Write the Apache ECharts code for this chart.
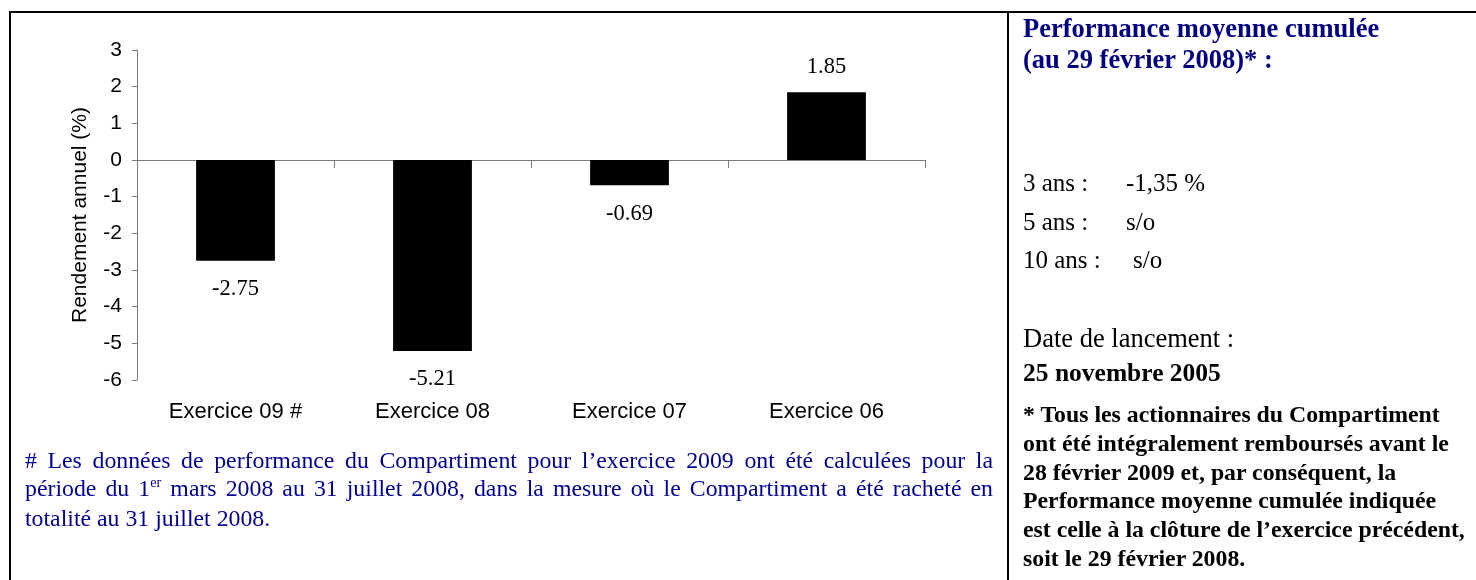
<!DOCTYPE html>
<html>
<head>
<meta charset="utf-8">
<script src="https://cdn.jsdelivr.net/npm/echarts@6/dist/echarts.min.js"></script>
<style>
  html, body { margin: 0; padding: 0; background: #fff; }
  #wrap { position: relative; width: 1476px; height: 580px; overflow: hidden; }
  #chart { position: absolute; left: 0; top: 0; width: 1476px; height: 580px; }
  .t { position: absolute; font-family: "Liberation Serif", "Times New Roman", serif; white-space: nowrap; color: #000; line-height: 1; }
  .navy { color: #000080; }
  .b { font-weight: bold; }
  #foot { position: absolute; left: 25px; top: 447px; width: 968px; font-family: "Liberation Serif", "Times New Roman", serif; font-size: 23.8px; line-height: 27.5px; color: #000090; }
  #foot .j { text-align: justify; text-align-last: justify; white-space: nowrap; }
  #foot .l { text-align: left; white-space: nowrap; }
  .sup { font-size: 0.6em; position: relative; top: -0.6em; }
  #note { position: absolute; left: 1023px; top: 400px; font-family: "Liberation Serif", "Times New Roman", serif; font-size: 23.8px; line-height: 28.8px; font-weight: bold; color: #000; white-space: nowrap; }
</style>
</head>
<body>
<div id="wrap">
  <div id="chart"></div>
  <div id="foot">
    <div class="j"># Les données de performance du Compartiment pour l’exercice 2009 ont été calculées pour la</div>
    <div class="j">période du 1<span class="sup">er</span> mars 2008 au 31 juillet 2008, dans la mesure où le Compartiment a été racheté en</div>
    <div class="l">totalité au 31 juillet 2008.</div>
  </div>
  <div class="t navy b" style="left:1023px; top:15px; font-size:26.5px;">Performance moyenne cumulée</div>
  <div class="t navy b" style="left:1023px; top:46px; font-size:26.5px;">(au 29 février 2008)* :</div>
  <div class="t" style="left:1023px; top:170px; font-size:25px;">3 ans :</div>
  <div class="t" style="left:1126px; top:170px; font-size:25px;">-1,35 %</div>
  <div class="t" style="left:1023px; top:209px; font-size:25px;">5 ans :</div>
  <div class="t" style="left:1126px; top:209px; font-size:25px;">s/o</div>
  <div class="t" style="left:1023px; top:247px; font-size:25px;">10 ans :</div>
  <div class="t" style="left:1133px; top:247px; font-size:25px;">s/o</div>
  <div class="t" style="left:1023px; top:325px; font-size:26.5px;">Date de lancement :</div>
  <div class="t b" style="left:1023px; top:360px; font-size:25.5px;">25 novembre 2005</div>
  <div id="note">* Tous les actionnaires du Compartiment<br>ont été intégralement remboursés avant le<br>28 février 2009 et, par conséquent, la<br>Performance moyenne cumulée indiquée<br>est celle à la clôture de l’exercice précédent,<br>soit le 29 février 2008.</div>
</div>
<script>
const categories = ['Exercice 09 #', 'Exercice 08', 'Exercice 07', 'Exercice 06'];
const returns = [-2.75, -5.21, -0.69, 1.85];
const yTicks = { min: -6, max: 3, interval: 1 };
const yAxisTitle = 'Rendement annuel (%)';

const chart = echarts.init(document.getElementById('chart'), null, { renderer: 'canvas' });
const sans = 'Liberation Sans, Arial, sans-serif';
const serif = 'Liberation Serif, Times New Roman, serif';
const axisGray = '#7a7a7a';

chart.setOption({
  animation: false,
  backgroundColor: '#fff',
  grid: { left: 137, right: 551, top: 50, bottom: 200, containLabel: false },
  xAxis: [
    {
      type: 'category', data: categories, position: 'bottom',
      axisLine: { show: true, onZero: true, lineStyle: { color: axisGray, width: 1 } },
      axisTick: { show: true, length: 8, lineStyle: { color: axisGray } },
      axisLabel: { show: false },
      splitLine: { show: false }
    },
    {
      type: 'category', data: categories, position: 'bottom',
      axisLine: { show: false, onZero: false },
      axisTick: { show: false },
      axisLabel: { show: true, margin: 21, fontFamily: sans, fontSize: 22, color: '#000' },
      splitLine: { show: false }
    }
  ],
  yAxis: {
    type: 'value', min: yTicks.min, max: yTicks.max, interval: yTicks.interval,
    name: yAxisTitle, nameLocation: 'middle', nameRotate: 90, nameGap: 46,
    nameTextStyle: { fontFamily: sans, fontSize: 21, color: '#000' },
    axisLine: { show: true, lineStyle: { color: axisGray, width: 1 } },
    axisTick: { show: true, length: 5, lineStyle: { color: axisGray } },
    axisLabel: { margin: 15, fontFamily: sans, fontSize: 21, color: '#000' },
    splitLine: { show: false }
  },
  series: [{
    type: 'bar', xAxisIndex: 0, yAxisIndex: 0,
    barWidth: '40%',
    itemStyle: { color: '#000' },
    label: { show: true, fontFamily: serif, fontSize: 22.5, color: '#000',
      formatter: p => String(p.value) },
    data: returns.map(v => ({ value: v, label: { position: v < 0 ? 'bottom' : 'top', distance: v < 0 ? 17 : 14 } }))
  }],
  graphic: [
    { type: 'rect', shape: { x: 9, y: 11, width: 1467, height: 2 }, style: { fill: '#000' } },
    { type: 'rect', shape: { x: 9, y: 11, width: 2, height: 569 }, style: { fill: '#000' } },
    { type: 'rect', shape: { x: 1007, y: 11, width: 2, height: 569 }, style: { fill: '#000' } }
  ]
});
</script>
</body>
</html>
